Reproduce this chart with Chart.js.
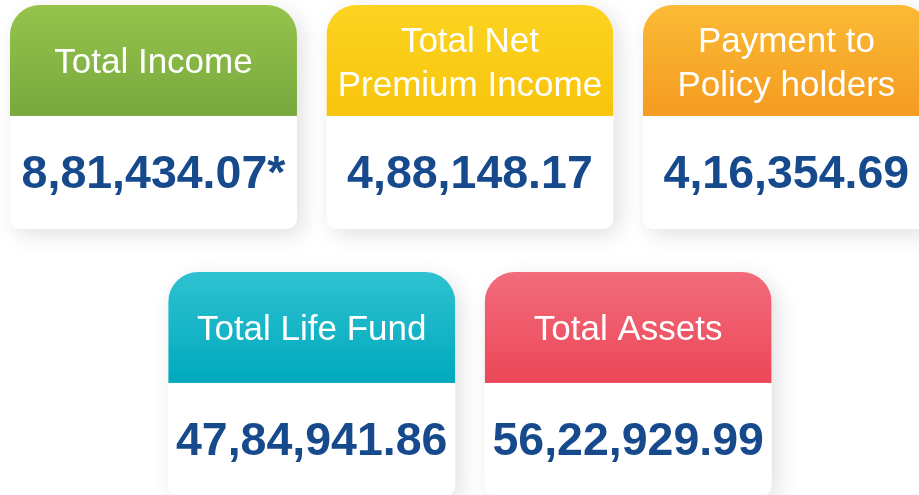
<!DOCTYPE html>
<html lang="en">
<head>
  <meta charset="UTF-8">
  <title>Key Figures</title>
  <script src="https://cdn.jsdelivr.net/npm/chart.js@4"></script>
  <style>
    html, body { margin: 0; padding: 0; background: #fff; }
    #wrap { width: 919px; height: 495px; }
  </style>
</head>
<body>
  <div id="wrap"><canvas id="cards"></canvas></div>
  <script>
    // figures (Rs. crore)
    const titles = [
      ['Total Income'],
      ['Total Net', 'Premium Income'],
      ['Payment to', 'Policy holders'],
      ['Total Life Fund'],
      ['Total Assets']
    ];
    const values = [881434.07, 488148.17, 416354.69, 4784941.86, 5622929.99];
    const notes = ['*', '', '', '', ''];

    // where each tile sits on the grid (column, row)
    const slots = [[0, 0], [1, 0], [2, 0], [0.5, 1], [1.5, 1]];
    const headColors = [
      ['#95c34c', '#78a93e'],
      ['#fcd421', '#f8c40c'],
      ['#fbba36', '#f49b20'],
      ['#2ec2d1', '#00a9bd'],
      ['#f26c7b', '#ec4758']
    ];

    // Indian digit grouping: 8,81,434.07
    function fmtIN(v) {
      const parts = v.toFixed(2).split('.');
      let int = parts[0];
      let last3 = int.slice(-3);
      let rest = int.slice(0, -3);
      if (rest) {
        rest = rest.replace(/\B(?=(\d{2})+(?!\d))/g, ',');
        last3 = rest + ',' + last3;
      }
      return last3 + '.' + parts[1];
    }

    function roundTile(ctx, x, y, w, h, rt, rb) {
      ctx.beginPath();
      ctx.moveTo(x + rt, y);
      ctx.arcTo(x + w, y, x + w, y + h, rt);
      ctx.arcTo(x + w, y + h, x, y + h, rb);
      ctx.arcTo(x, y + h, x, y, rb);
      ctx.arcTo(x, y, x + w, y, rt);
      ctx.closePath();
    }

    const tilePlugin = {
      id: 'tiles',
      afterDatasetsDraw(chart) {
        const ctx = chart.ctx;
        const meta = chart.getDatasetMeta(0);
        const W = 287, H = 224, headH = 111;
        meta.data.forEach((pt, i) => {
          const x = pt.x - W / 2, y = pt.y - H / 2;

          // card body with soft shadow
          ctx.save();
          ctx.shadowColor = 'rgba(0,0,0,0.12)';
          ctx.shadowBlur = 22;
          ctx.shadowOffsetX = 6;
          ctx.shadowOffsetY = 6;
          roundTile(ctx, x, y, W, H, 30, 10);
          ctx.fillStyle = '#ffffff';
          ctx.fill();
          ctx.restore();

          // coloured header
          ctx.save();
          roundTile(ctx, x, y, W, H, 30, 10);
          ctx.clip();
          const g = ctx.createLinearGradient(0, y, 0, y + headH);
          g.addColorStop(0, headColors[i][0]);
          g.addColorStop(1, headColors[i][1]);
          ctx.fillStyle = g;
          ctx.fillRect(x, y, W, headH);
          ctx.restore();

          // title
          ctx.save();
          ctx.fillStyle = '#ffffff';
          ctx.font = '35px "Liberation Sans", Arial, sans-serif';
          ctx.textAlign = 'center';
          ctx.textBaseline = 'middle';
          const lines = titles[i];
          const lh = 44;
          const cy = y + headH / 2 + (lines.length > 1 ? 4 : 3);
          lines.forEach((t, k) => {
            ctx.fillText(t, pt.x, cy + (k - (lines.length - 1) / 2) * lh);
          });

          // value
          ctx.fillStyle = '#174a8d';
          ctx.font = 'bold 46.5px "Liberation Sans", Arial, sans-serif';
          ctx.fillText(fmtIN(values[i]) + notes[i], pt.x, y + headH + (H - headH) / 2 + 3);
          ctx.restore();
        });
      }
    };

    new Chart(document.getElementById('cards'), {
      type: 'scatter',
      data: {
        datasets: [{
          data: slots.map(s => ({ x: s[0], y: s[1] })),
          pointRadius: 0,
          pointHoverRadius: 0
        }]
      },
      options: {
        responsive: true,
        maintainAspectRatio: false,
        animation: false,
        layout: { padding: 0 },
        plugins: { legend: { display: false }, tooltip: { enabled: false } },
        events: [],
        scales: {
          x: { type: 'linear', display: false, min: -0.485, max: 2.419 },
          y: { type: 'linear', display: false, reverse: true, min: -0.438, max: 1.416 }
        }
      },
      plugins: [tilePlugin]
    });
  </script>
</body>
</html>
